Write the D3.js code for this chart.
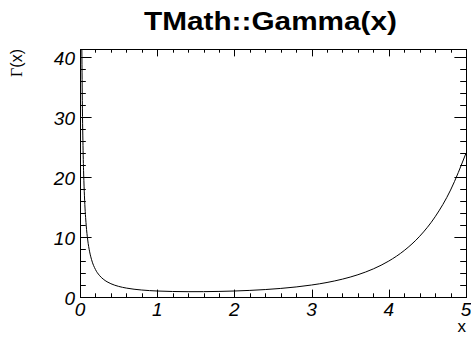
<!DOCTYPE html>
<html>
<head>
<meta charset="utf-8">
<script src="https://cdn.jsdelivr.net/npm/d3@7"></script>
<style>
  html, body { margin: 0; padding: 0; background: #fff; }
  svg { display: block; }
</style>
</head>
<body>
<svg id="chart" width="471" height="338"></svg>
<script>
// Sampled values of the Gamma function on (0, 5]
const xValues = [0.023, 0.03, 0.04, 0.05, 0.06, 0.08, 0.1, 0.125, 0.15, 0.2, 0.25, 0.3, 0.35, 0.4,
  0.5, 0.6, 0.7, 0.8, 0.9, 1.0, 1.2, 1.4, 1.6, 1.8, 2.0, 2.2, 2.4, 2.6, 2.8, 3.0,
  3.2, 3.4, 3.6, 3.8, 4.0, 4.2, 4.4, 4.6, 4.8, 5.0];
const gammaValues = [42.92, 32.79, 24.46, 19.47, 16.15, 12.00, 9.514, 7.534, 6.220, 4.591, 3.626, 2.992, 2.546, 2.218,
  1.7725, 1.4892, 1.2981, 1.1642, 1.0686, 1.0, 0.9182, 0.8873, 0.8935, 0.9314, 1.0, 1.1018, 1.2422, 1.4296, 1.6765, 2.0,
  2.424, 2.981, 3.717, 4.694, 6.0, 7.757, 10.136, 13.381, 17.838, 24.0];

const xMajorTicks = [0, 1, 2, 3, 4, 5];
const yMajorTicks = [0, 10, 20, 30, 40];
const xDomain = [0, 5];
const yDomain = [0, 41.38];

const titleText = "TMath::Gamma(x)";
const xTitle = "x";

const svg = d3.select("#chart");
const frame = { left: 80, right: 466, top: 49, bottom: 297 };

const x = d3.scaleLinear().domain(xDomain).range([frame.left, frame.right]);
const y = d3.scaleLinear().domain(yDomain).range([frame.bottom, frame.top]);

const xMinor = d3.range(0, 5.0001, 0.2).map(v => +v.toFixed(2));
const yMinor = d3.range(0, 40.0001, 2);

const xMajLen = 7.4, xMinLen = 3.7, yMajLen = 11.6, yMinLen = 5.8;

// Curve, clipped to the frame
svg.append("clipPath").attr("id", "frameClip")
  .append("rect")
  .attr("x", frame.left).attr("y", frame.top)
  .attr("width", frame.right - frame.left).attr("height", frame.bottom - frame.top);

const pts = xValues.map((v, i) => [v, gammaValues[i]]);
const line = d3.line().x(d => x(d[0])).y(d => y(d[1])).curve(d3.curveMonotoneX);
svg.append("path")
  .attr("clip-path", "url(#frameClip)")
  .attr("d", line(pts))
  .attr("fill", "none")
  .attr("stroke", "#000")
  .attr("stroke-width", 1);

// Ticks on all four sides
const ticks = svg.append("g").attr("stroke", "#000").attr("stroke-width", 1);
xMinor.forEach(v => {
  const major = Math.abs(v - Math.round(v)) < 1e-6;
  const len = major ? xMajLen : xMinLen;
  const px = Math.round(x(v)) + 0.5;
  ticks.append("line").attr("x1", px).attr("x2", px)
    .attr("y1", frame.bottom).attr("y2", frame.bottom - len);
  ticks.append("line").attr("x1", px).attr("x2", px)
    .attr("y1", frame.top).attr("y2", frame.top + len);
});
yMinor.forEach(v => {
  const major = v % 10 === 0;
  const len = major ? yMajLen : yMinLen;
  const py = Math.round(y(v)) + 0.5;
  ticks.append("line").attr("y1", py).attr("y2", py)
    .attr("x1", frame.left).attr("x2", frame.left + len);
  ticks.append("line").attr("y1", py).attr("y2", py)
    .attr("x1", frame.right).attr("x2", frame.right - len);
});

// Frame
svg.append("rect")
  .attr("x", frame.left + 0.5).attr("y", frame.top + 0.5)
  .attr("width", frame.right - frame.left).attr("height", frame.bottom - frame.top)
  .attr("fill", "none").attr("stroke", "#000").attr("stroke-width", 1);

// Tick labels
const labelFont = "'Liberation Sans', Arial, Helvetica, sans-serif";
svg.append("g").selectAll("text").data(xMajorTicks).join("text")
  .attr("x", d => x(d)).attr("y", 316)
  .attr("text-anchor", "middle")
  .attr("font-family", labelFont).attr("font-style", "italic").attr("font-size", 19)
  .text(d => d);

svg.append("g").selectAll("text").data(yMajorTicks).join("text")
  .attr("x", 75).attr("y", d => y(d) + 8)
  .attr("text-anchor", "end")
  .attr("font-family", labelFont).attr("font-style", "italic").attr("font-size", 19)
  .text(d => d);

// Title
svg.append("text")
  .attr("x", 270.5).attr("y", 29.5)
  .attr("text-anchor", "middle")
  .attr("font-family", labelFont).attr("font-weight", "bold").attr("font-size", 26)
  .attr("textLength", 253).attr("lengthAdjust", "spacingAndGlyphs")
  .text(titleText);

// Axis titles
svg.append("text")
  .attr("x", 466).attr("y", 332)
  .attr("text-anchor", "end")
  .attr("font-family", labelFont).attr("font-size", 17)
  .text(xTitle);

const yt = svg.append("text")
  .attr("transform", "translate(22,49) rotate(-90)")
  .attr("text-anchor", "end")
  .attr("font-size", 16);
yt.append("tspan").attr("font-family", "'Liberation Serif', 'Times New Roman', serif").text("Γ");
yt.append("tspan").attr("font-family", labelFont).text("(x)");
</script>
</body>
</html>
